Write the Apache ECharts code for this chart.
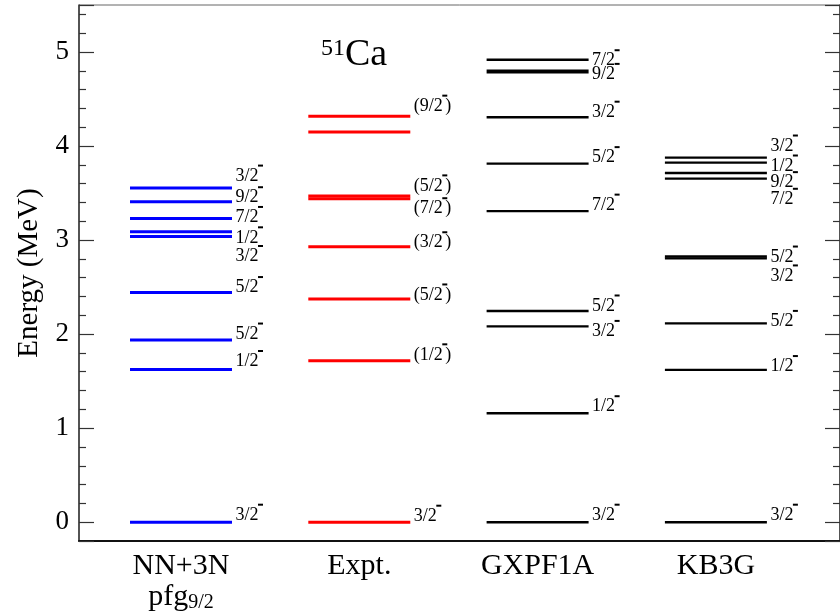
<!DOCTYPE html>
<html><head><meta charset="utf-8">
<script src="https://cdn.jsdelivr.net/npm/echarts@6/dist/echarts.min.js"></script>
<style>html,body{margin:0;padding:0;background:#fff}#c{width:840px;height:615px}</style>
</head><body><div id="c"></div>
<script>
// ---------- data ----------
const categories = ['NN+3N', 'Expt.', 'GXPF1A', 'KB3G'];
const nn3nEnergy = [0, 1.624, 1.937, 2.442, 3.038, 3.088, 3.230, 3.408, 3.553];
const nn3nSpin   = ['3/2-', '1/2-', '5/2-', '5/2-', '3/2-', '1/2-', '7/2-', '9/2-', '3/2-'];
const exptEnergy = [0, 1.716, 2.374, 2.929, 3.440, 3.470, 4.150, 4.318];
const exptSpin   = ['3/2-', '(1/2-)', '(5/2-)', '(3/2-)', '(7/2-)', '(5/2-)', '', '(9/2-)'];
const gxpf1aEnergy = [0, 1.159, 2.082, 2.246, 3.308, 3.813, 4.307, 4.794, 4.918];
const gxpf1aSpin   = ['3/2-', '1/2-', '3/2-', '5/2-', '7/2-', '5/2-', '3/2-', '9/2-', '7/2-'];
const kb3gEnergy = [0, 1.620, 2.114, 2.805, 2.825, 3.654, 3.713, 3.824, 3.877];
const kb3gSpin   = ['3/2-', '1/2-', '5/2-', '3/2-', '5/2-', '7/2-', '9/2-', '1/2-', '3/2-'];
const yTickLabels = ['0', '1', '2', '3', '4', '5'];
const yAxisName = 'Energy (MeV)';

// ---------- layout (label nudges in px, styles) ----------
const nn3nLabelDy   = [-7, -8, -6, -5, 20, 6, -1, -4, -12];
const exptLabelDy   = [-6, -6, -4, -4, 10, -10, 0, -10];
const gxpf1aLabelDy = [-7, -6.5, 5, -5, -6, -6, -5, 3, 1];
const kb3gLabelDy   = [-7, -3.3, -2, 17.5, 0.5, 20.7, 9.6, 3.4, -11.6];
const colColor = ['#0000ff', '#ff0000', '#000000', '#000000'];
const colWidth = [3, 3, 2.4, 2.4];
const thickLevel = { '2:7': 4 };
const FONT = '"Liberation Serif", "Times New Roman", serif';
const LABEL_SIZE = 18;

const columns = [
  [nn3nEnergy, nn3nSpin, nn3nLabelDy],
  [exptEnergy, exptSpin, exptLabelDy],
  [gxpf1aEnergy, gxpf1aSpin, gxpf1aLabelDy],
  [kb3gEnergy, kb3gSpin, kb3gLabelDy]
];
const items = [];
columns.forEach((col, ci) => {
  col[0].forEach((e, k) => items.push({ ci, k, e, spin: col[1][k], dy: col[2][k] }));
});

const mctx = document.createElement('canvas').getContext('2d');
mctx.font = LABEL_SIZE + 'px ' + FONT;
function tw(s) { return mctx.measureText(s).width; }

function renderItem(params, api) {
  const it = items[params.dataIndex];
  const ci = api.value(0), e = api.value(1);
  const c = api.coord([ci, e]);
  const band = api.size([1, 0])[0];
  const hw = band * 0.286;
  const lw = thickLevel[it.ci + ':' + it.k] || colWidth[it.ci];
  const children = [{
    type: 'line',
    shape: { x1: c[0] - hw, y1: c[1], x2: c[0] + hw, y2: c[1] },
    style: { stroke: colColor[it.ci], lineWidth: lw }
  }];
  if (it.spin) {
    const idx = it.spin.indexOf('-');
    const pre = it.spin.slice(0, idx), post = it.spin.slice(idx + 1);
    const lx = c[0] + hw + 3.5, ly = c[1] + it.dy;
    const w = tw(pre);
    children.push({ type: 'text', x: lx, y: ly,
      style: { text: pre, fontSize: LABEL_SIZE, fontFamily: FONT, fill: '#000', align: 'left', verticalAlign: 'middle' } });
    children.push({ type: 'rect', shape: { x: lx + w - 0.5, y: ly - 11.5, width: 5, height: 2 }, style: { fill: '#000' } });
    if (post) children.push({ type: 'text', x: lx + w + 2.5, y: ly,
      style: { text: post, fontSize: LABEL_SIZE, fontFamily: FONT, fill: '#000', align: 'left', verticalAlign: 'middle' } });
  }
  return { type: 'group', children };
}

const chart = echarts.init(document.getElementById('c'), null, { renderer: 'canvas' });
const axisCol = '#333';
chart.setOption({
  animation: false,
  backgroundColor: '#fff',
  title: {
    text: '{s|51}{c|Ca}', left: 321, top: 37, padding: 0,
    textStyle: { rich: {
      s: { fontSize: 24, fontFamily: FONT, fontWeight: 'normal', color: '#000', lineHeight: 6, verticalAlign: 'top' },
      c: { fontSize: 38, fontFamily: FONT, fontWeight: 'normal', color: '#000', lineHeight: 36 }
    } }
  },
  graphic: [{
    type: 'text', x: 29, y: 273, rotation: Math.PI / 2,
    style: { text: yAxisName, fontSize: 29, fontFamily: FONT, fill: '#000', align: 'center', verticalAlign: 'middle' }
  }],
  grid: [
    { left: 79, right: -4, top: 5, bottom: 74, show: true, borderColor: '#666', borderWidth: 1 },
    { left: 91.85, right: 34.95, top: 5, bottom: 74 }
  ],
  xAxis: [
    { gridIndex: 0, type: 'value', min: 0, max: 1, position: 'bottom',
      axisLine: { show: true, onZero: false, lineStyle: { color: '#111', width: 2 } },
      axisTick: { show: false }, axisLabel: { show: false }, splitLine: { show: false } },
    { gridIndex: 1, type: 'category', data: categories, position: 'bottom',
      axisLine: { show: false, onZero: false }, axisTick: { show: false }, splitLine: { show: false },
      axisLabel: { margin: 10, interval: 0,
        formatter: (v) => v === 'NN+3N' ? '{a|NN+3N}\n{a|pfg}{b|9/2}' : '{a|' + v + '}',
        rich: {
          a: { fontSize: 30, fontFamily: FONT, color: '#000', lineHeight: 31 },
          b: { fontSize: 20, fontFamily: FONT, color: '#000', lineHeight: 10, verticalAlign: 'bottom' }
        } } }
  ],
  yAxis: [
    { gridIndex: 0, type: 'value', min: -0.2, max: 5.5, position: 'left',
      axisLine: { show: true, onZero: false, lineStyle: { color: axisCol, width: 1.5 } },
      axisTick: { show: true, inside: true, length: 15, lineStyle: { color: axisCol, width: 1.2 } },
      minorTick: { show: true, splitNumber: 5, length: 7, lineStyle: { color: axisCol, width: 1.2 } },
      axisLabel: { fontSize: 27, fontFamily: FONT, color: '#000', margin: 10, align: 'right', showMinLabel: false, showMaxLabel: false,
        formatter: (v) => { const i = Math.round(v); return Math.abs(v - i) < 1e-9 && yTickLabels[i] !== undefined ? yTickLabels[i] : ''; } },
      splitLine: { show: false } },
    { gridIndex: 0, type: 'value', min: -0.2, max: 5.5, position: 'right',
      axisLine: { show: true, onZero: false, lineStyle: { color: axisCol, width: 1.5 } },
      axisTick: { show: true, inside: true, length: 15, lineStyle: { color: axisCol, width: 1.2 } },
      minorTick: { show: true, splitNumber: 5, length: 7, lineStyle: { color: axisCol, width: 1.2 } },
      axisLabel: { show: false }, splitLine: { show: false } },
    { gridIndex: 1, type: 'value', min: -0.2, max: 5.5, show: false }
  ],
  series: [{
    type: 'custom', xAxisIndex: 1, yAxisIndex: 2,
    renderItem: renderItem,
    data: items.map(it => [it.ci, it.e]),
    silent: true
  }]
});
</script></body></html>
